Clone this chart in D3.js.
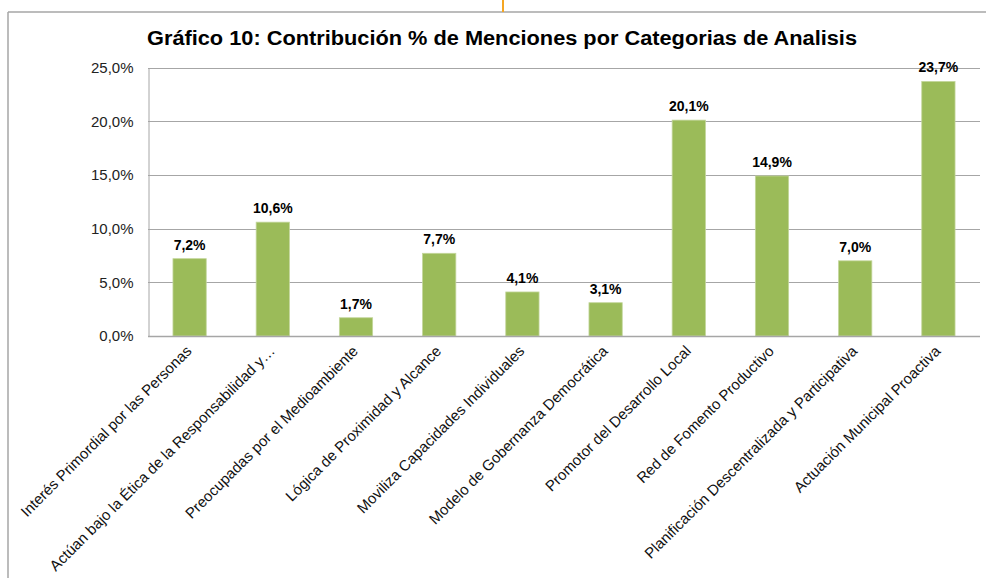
<!DOCTYPE html>
<html>
<head>
<meta charset="utf-8">
<script src="https://cdn.jsdelivr.net/npm/d3@7"></script>
<style>
  body { margin: 0; background: #fff; }
  svg { font-family: "Liberation Sans", Arial, sans-serif; }
</style>
</head>
<body>
<svg class="chart"></svg>
<script>
// categorias y valores (%)
let categories = [
  "Interés Primordial por las Personas",
  "Actúan bajo la Ética de la Responsabilidad y…",
  "Preocupadas por el Medioambiente",
  "Lógica de Proximidad y Alcance",
  "Moviliza Capacidades Individuales",
  "Modelo de Gobernanza Democrática",
  "Promotor del Desarrollo Local",
  "Red de Fomento Productivo",
  "Planificación Descentralizada y Participativa",
  "Actuación Municipal Proactiva"
];
let values = [7.2, 10.6, 1.7, 7.7, 4.1, 3.1, 20.1, 14.9, 7.0, 23.7];
let yTicks = [0, 5, 10, 15, 20, 25];

let createChart = () => {
    let svg = d3.select('.chart')
                .attr('width', 986)
                .attr('height', 578);

    // marco del grafico
    svg.append('line')
       .attr('x1', 8).attr('y1', 12).attr('x2', 986).attr('y2', 12)
       .attr('stroke', '#a6a6a6').attr('stroke-width', 1.5);
    svg.append('line')
       .attr('x1', 8).attr('y1', 12).attr('x2', 8).attr('y2', 578)
       .attr('stroke', '#a6a6a6').attr('stroke-width', 1.5);
    svg.append('line')
       .attr('x1', 503).attr('y1', 0).attr('x2', 503).attr('y2', 12)
       .attr('stroke', '#f5a623').attr('stroke-width', 2);

    let fmt = (v) => v.toFixed(1).replace('.', ',') + '%';

    let xScale = d3.scaleBand()
                   .domain(categories)
                   .range([148, 980])
                   .paddingInner(0.6)
                   .paddingOuter(0.3);

    let yScale = d3.scaleLinear()
                   .domain([0, 25])
                   .range([336, 67.5]);

    // lineas de grilla
    svg.append('g')
       .selectAll('line')
       .data(yTicks)
       .enter()
       .append('line')
       .attr('x1', 148)
       .attr('x2', 980)
       .attr('y1', (d) => Math.round(yScale(d)) + 0.5)
       .attr('y2', (d) => Math.round(yScale(d)) + 0.5)
       .attr('stroke', '#a6a6a6')
       .attr('stroke-width', 1);

    let yAxis = d3.axisLeft(yScale).tickValues(yTicks).tickFormat(fmt).tickSize(0).tickPadding(15);
    let gy = svg.append('g')
                .attr('transform', 'translate(148.5,0)')
                .call(yAxis);
    gy.select('.domain').attr('stroke', '#a6a6a6');
    gy.selectAll('text')
      .style('font-size', '15px')
      .style('font-family', '"Liberation Sans", Arial, sans-serif')
      .attr('fill', '#222');

    svg.selectAll('rect.bar')
       .data(values)
       .enter()
       .append('rect')
       .attr('class', 'bar')
       .attr('x', (d, i) => xScale(categories[i]))
       .attr('y', (d) => yScale(d))
       .attr('width', xScale.bandwidth())
       .attr('height', (d) => yScale(0) - yScale(d))
       .attr('fill', '#9bbb59')
       .attr('stroke', '#c3d69b')
       .attr('stroke-width', 0.8);

    // eje x (linea base)
    svg.append('line')
       .attr('x1', 148).attr('x2', 980)
       .attr('y1', 336.5).attr('y2', 336.5)
       .attr('stroke', '#a6a6a6').attr('stroke-width', 1.5);

    // etiquetas de datos
    svg.selectAll('text.val')
       .data(values)
       .enter()
       .append('text')
       .attr('class', 'val')
       .attr('x', (d, i) => xScale(categories[i]) + xScale.bandwidth() / 2)
       .attr('y', (d) => yScale(d) - 9)
       .attr('text-anchor', 'middle')
       .style('font-size', '14px')
       .style('font-weight', 'bold')
       .text(fmt);

    // etiquetas de categorias
    svg.selectAll('text.cat')
       .data(categories)
       .enter()
       .append('text')
       .attr('class', 'cat')
       .attr('transform', (d) => 'translate(' + (xScale(d) + xScale.bandwidth() / 2 + 3) + ',352) rotate(-45)')
       .attr('text-anchor', 'end')
       .style('font-size', '15px')
       .attr('fill', '#111')
       .text((d) => d);

    svg.append('text')
       .attr('x', 502)
       .attr('y', 45)
       .attr('text-anchor', 'middle')
       .attr('textLength', 710)
       .attr('lengthAdjust', 'spacingAndGlyphs')
       .style('font-size', '20px')
       .style('font-weight', 'bold')
       .text('Gráfico 10: Contribución % de Menciones por Categorias de Analisis');
};

createChart();
</script>
</body>
</html>
